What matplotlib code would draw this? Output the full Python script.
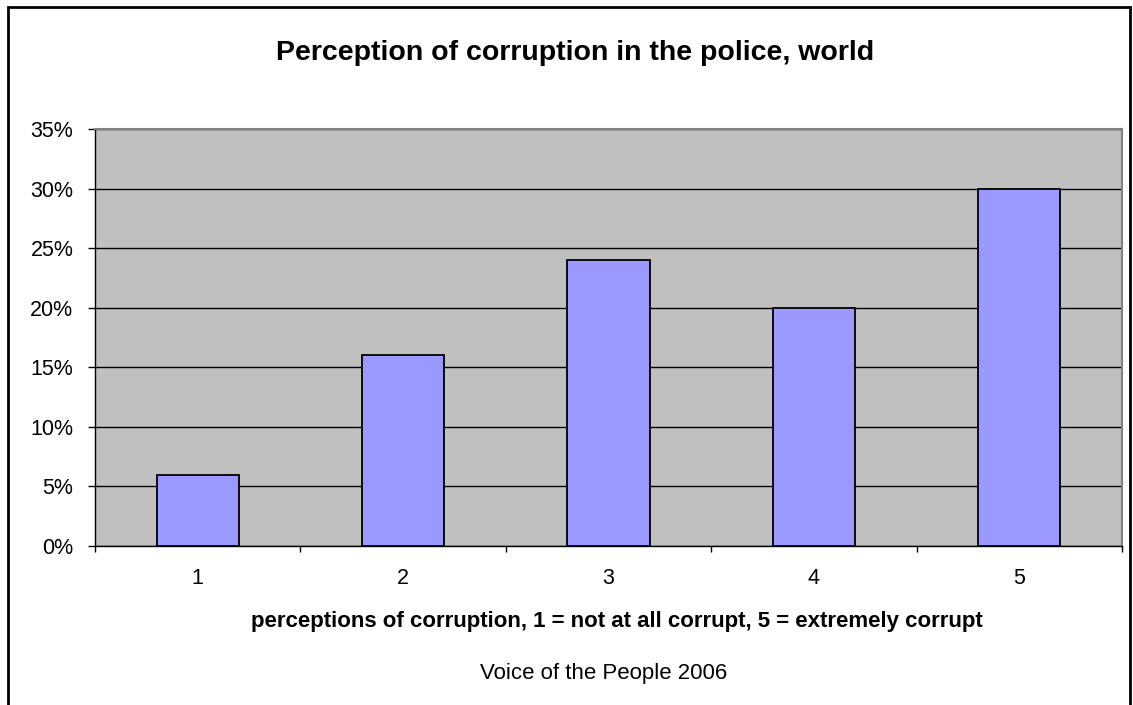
import matplotlib.pyplot as plt
from matplotlib.patches import Rectangle
from matplotlib.ticker import FuncFormatter, FixedLocator

categories = ["1", "2", "3", "4", "5"]
shares = [0.06, 0.16, 0.24, 0.20, 0.30]

plt.rcParams["font.family"] = ["Liberation Sans", "DejaVu Sans"]

fig = plt.figure(figsize=(11.33, 7.05), dpi=100)
ax = fig.add_axes([95 / 1133, 159 / 705, 1027 / 1133, 417 / 705])

# outer chart border (bottom edge falls outside the image)
fig.patches.append(Rectangle((8 / 1133, -0.1), 1122 / 1133, (698 / 705) + 0.1,
                             transform=fig.transFigure, fill=False,
                             edgecolor="black", linewidth=2))

x = list(range(len(categories)))
ax.set_facecolor("#C0C0C0")
ax.bar(x, shares, width=0.4, color="#9999FF", edgecolor="black",
       linewidth=1.3, zorder=3)

ax.set_xlim(-0.5, len(categories) - 0.5)
ax.set_ylim(0, 0.35)
ax.set_yticks([i * 0.05 for i in range(8)])
ax.yaxis.set_major_formatter(FuncFormatter(lambda v, _: f"{v * 100:.0f}%"))
ax.grid(axis="y", color="black", linewidth=1, zorder=1)
ax.set_axisbelow(True)

ax.set_xticks(x)
ax.set_xticklabels(categories)
ax.xaxis.set_minor_locator(FixedLocator([i - 0.5 for i in range(len(categories) + 1)]))
ax.tick_params(axis="x", which="major", length=0, pad=16, labelsize=15.5)
ax.tick_params(axis="x", which="minor", length=4.5, width=1, color="black")
ax.tick_params(axis="y", length=5, width=1, labelsize=15.5, pad=10.5)

for side in ("top", "right"):
    ax.spines[side].set_color("#808080")
    ax.spines[side].set_linewidth(1.5)
for side in ("left", "bottom"):
    ax.spines[side].set_color("black")
    ax.spines[side].set_linewidth(1)

fig.text(575 / 1133, 1 - 59.5 / 705, "Perception of corruption in the police, world",
         ha="center", va="baseline", fontsize=20.5, fontweight="bold")
fig.text(617 / 1133, 1 - 627.5 / 705,
         "perceptions of corruption, 1 = not at all corrupt, 5 = extremely corrupt",
         ha="center", va="baseline", fontsize=16, fontweight="bold")
fig.text(604 / 1133, 1 - 678.5 / 705, "Voice of the People 2006",
         ha="center", va="baseline", fontsize=16)

fig.savefig("out.png", dpi=100)
